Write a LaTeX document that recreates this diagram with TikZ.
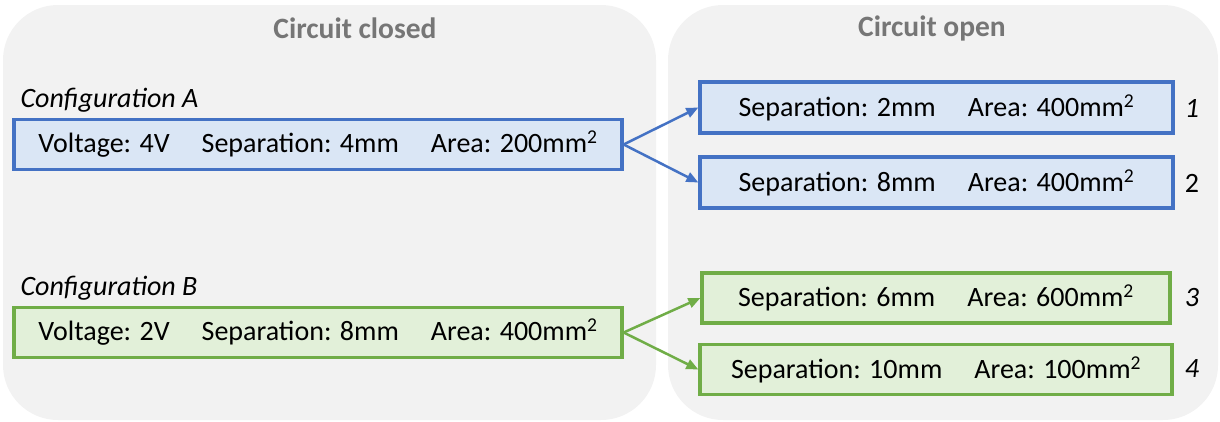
\documentclass[tikz,border=0pt]{standalone}
\usepackage{fontspec}
\setmainfont{Carlito}
\usetikzlibrary{arrows.meta}
\definecolor{panelfill}{HTML}{F2F2F2}
\definecolor{headgray}{HTML}{767676}
\definecolor{blueline}{HTML}{4472C4}
\definecolor{bluefill}{HTML}{DAE6F5}
\definecolor{greenline}{HTML}{70AD47}
\definecolor{greenfill}{HTML}{E2F0D9}
\tikzset{
  panelbox/.style={rectangle, rounded corners=55pt, fill=panelfill, draw=none, inner sep=0pt},
  header/.style={font=\fontsize{29.5}{34}\selectfont\bfseries, text=headgray},
  bluebox/.style={rectangle, draw=blueline, fill=bluefill, line width=3.3pt, inner sep=0pt, minimum height=50pt},
  greenbox/.style={rectangle, draw=greenline, fill=greenfill, line width=3.3pt, inner sep=0pt, minimum height=50pt},
  conflabel/.style={font=\fontsize{28}{32}\selectfont\itshape, anchor=west},
  numlabel/.style={font=\fontsize{28}{32}\selectfont},
  bluearrow/.style={draw=blueline, line width=2.5pt, -{Triangle[length=12pt,width=10pt]}},
  greenarrow/.style={draw=greenline, line width=2.5pt, -{Triangle[length=12pt,width=10pt]}},
}
\newcommand{\gapsp}{\hspace{32pt}}
\begin{document}
\begin{tikzpicture}[x=1pt,y=-1pt,font=\fontsize{28}{32}\selectfont]
\useasboundingbox (0,0) rectangle (1220,421);
\node[panelbox, minimum width=653pt, minimum height=415pt] (L) at (329.5,212.5) {};
\node[panelbox, minimum width=550pt, minimum height=415pt] (R) at (943,212.5) {};
\node[header] (hL) at (355,28) {Circuit closed};
\node[header] (hR) at (932,28) {Circuit open};

\node[conflabel] (cA) at (17,100) {Configuration A};
\node[conflabel] (cB) at (17,288) {Configuration B};

\node[bluebox, minimum width=608pt] (A) at (318,144.5)
  {Voltage: 4V\gapsp Separation: 4mm\gapsp Area: 200mm\textsuperscript{2}};
\node[greenbox, minimum width=608pt] (B) at (318,332.5)
  {Voltage: 2V\gapsp Separation: 8mm\gapsp Area: 400mm\textsuperscript{2}};

\node[bluebox, minimum width=473pt, minimum height=51pt] (b1) at (936.5,107.5)
  {Separation: 2mm\gapsp Area: 400mm\textsuperscript{2}};
\node[bluebox, minimum width=473pt, minimum height=51pt] (b2) at (936.5,182.5)
  {Separation: 8mm\gapsp Area: 400mm\textsuperscript{2}};
\node[greenbox, minimum width=468pt] (b3) at (936,298)
  {Separation: 6mm\gapsp Area: 600mm\textsuperscript{2}};
\node[greenbox, minimum width=472pt] (b4) at (936,369.5)
  {Separation: 10mm\gapsp Area: 100mm\textsuperscript{2}};

\node[numlabel, font=\fontsize{28}{32}\selectfont\itshape] (n1) at (1192,108) {1};
\node[numlabel] (n2) at (1192,183) {2};
\node[numlabel, font=\fontsize{28}{32}\selectfont\itshape] (n3) at (1192,298) {3};
\node[numlabel, font=\fontsize{28}{32}\selectfont\itshape] (n4) at (1192,369) {4};

\draw[bluearrow] (A.east) -- (b1.west);
\draw[bluearrow] (A.east) -- (b2.west);
\draw[greenarrow] (B.east) -- (b3.west);
\draw[greenarrow] (B.east) -- (b4.west);
\end{tikzpicture}
\end{document}
